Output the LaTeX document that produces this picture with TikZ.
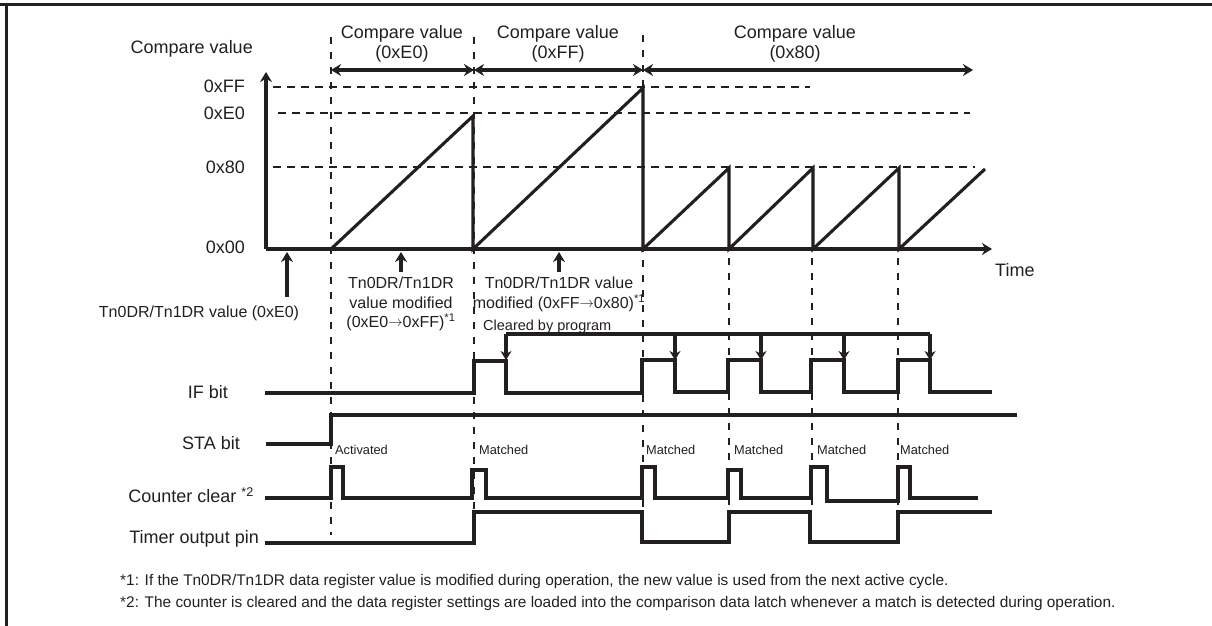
\documentclass[tikz,border=0pt]{standalone}
\usepackage{fontspec}
\setmainfont{Liberation Sans}
\usetikzlibrary{arrows.meta}
\definecolor{ink}{HTML}{231F20}
\newcommand{\tinyarrow}{\raisebox{1.2pt}{\fontsize{14}{14}\selectfont$\rightarrow$}}
\begin{document}
\begin{tikzpicture}[x=1pt,y=-1pt, every node/.style={text=ink, inner sep=0pt},
  sig/.style={draw=ink, line width=3.1pt, line join=miter},
  hdash/.style={draw=ink, line width=2pt, dash pattern=on 8pt off 6pt},
  vdash/.style={draw=ink, line width=2pt, dash pattern=on 7pt off 8pt},
  lbl/.style={font=\fontsize{18}{20}\selectfont},
  ann/.style={font=\fontsize{16}{19.5}\selectfont, align=center},
  tiny/.style={font=\fontsize{12.8}{14}\selectfont, anchor=base west},
  foot/.style={font=\fontsize{15.4}{17}\selectfont, anchor=base west},
  arr/.style={draw=ink, line width=3.1pt, -{Stealth[length=10pt,width=12pt]}},
  darr/.style={draw=ink, line width=3.1pt, {Stealth[length=10pt,width=12pt]}-{Stealth[length=10pt,width=12pt]}},
  clr/.style={draw=ink, line width=3.1pt, -{Stealth[length=9pt,width=11pt]}},
]
\useasboundingbox (0,0) rectangle (1212,626);
% frame
\draw[ink, line width=3pt] (0,4.5) -- (1212,4.5);
\draw[ink, line width=3pt] (6.5,3) -- (6.5,626);

% coordinates of the time grid
\coordinate (o) at (266,249);
\coordinate (ytop) at (266,72);
\coordinate (tend) at (992,249);

% dashed level lines
\draw[hdash] (273,87) -- (810,87);
\draw[hdash] (278,113) -- (970,113);
\draw[hdash] (273,167) -- (975,167);

% dashed vertical lines
\draw[vdash] (331,37) -- (331,535);
\draw[vdash] (474,37) -- (474,510);
\draw[vdash] (643,35) -- (643,508);
\draw[vdash] (729,258) -- (729,508);
\draw[vdash] (812,258) -- (812,508);
\draw[vdash] (898,258) -- (898,508);

% axes
\draw[arr] (o) -- (ytop);
\draw[arr] (o) -- (tend);

% sawtooth
\draw[sig] (331,249) -- (473,116) -- (473,249) -- (643,88) -- (643,249)
  -- (729,168) -- (729,249) -- (813,168) -- (813,249) -- (899,168) -- (899,249)
  -- (985,169);

% compare value intervals
\coordinate (c0) at (331,70);
\coordinate (c1) at (474,70);
\coordinate (c2) at (643,70);
\coordinate (c3) at (973,70);
\draw[darr] (c0) -- (c1);
\draw[darr] (c1) -- (c2);
\draw[darr] (c2) -- (c3);
\node[lbl, align=center] (h1) at (402,43.5) {Compare value\\(0xE0)};
\node[lbl, align=center] (h2) at (558,43.5) {Compare value\\(0xFF)};
\node[lbl, align=center] (h3) at (795,43.5) {Compare value\\(0x80)};

% axis labels
\node[lbl, anchor=base east] (ylab) at (253,53.5) {Compare value};
\node[lbl, anchor=base east] (lFF) at (245,92.5) {0xFF};
\node[lbl, anchor=base east] (lE0) at (245,119.5) {0xE0};
\node[lbl, anchor=base east] (l80) at (245,173.5) {0x80};
\node[lbl, anchor=base east] (l00) at (245,253.5) {0x00};
\node[lbl, anchor=base west] (time) at (995,276.5) {Time};

% annotations
\node[ann, anchor=base] (a1) at (199,317.8) {Tn0DR/Tn1DR value (0xE0)};
\node[ann] (a2) at (401,304) {Tn0DR/Tn1DR\\value modified\\(0xE0\tinyarrow 0xFF)\textsuperscript{*1}};
\node[ann] (a3) at (559,294.4) {Tn0DR/Tn1DR value\\modified (0xFF\tinyarrow 0x80)\textsuperscript{*1}};
\coordinate (p1) at (287,297); \coordinate (q1) at (287,252);
\coordinate (p2) at (401,272); \coordinate (q2) at (401,252);
\coordinate (p3) at (559,272); \coordinate (q3) at (559,252);
\draw[arr] (p1) -- (q1);
\draw[arr] (p2) -- (q2);
\draw[arr] (p3) -- (q3);

% cleared by program
\node[font=\fontsize{14.5}{16}\selectfont, anchor=base west] (cbp) at (483,330.2) {Cleared by program};
\coordinate (b0) at (506,334);
\coordinate (b1) at (675,334);
\coordinate (b2) at (761,334);
\coordinate (b3) at (844,334);
\coordinate (b4) at (930,334);
\draw[sig] (b0) -- (b4);
\draw[clr] (b0) -- (506,360);
\draw[clr] (b1) -- (675,360);
\draw[clr] (b2) -- (761,360);
\draw[clr] (b3) -- (844,360);
\draw[clr] (b4) -- (930,360);

% signal labels
\node[lbl, anchor=base east] (sIF) at (228,398.5) {IF bit};
\node[lbl, anchor=base east] (sSTA) at (240,449.5) {STA bit};
\node[lbl, anchor=base east] (sCC) at (254,502.5) {Counter clear \textsuperscript{*2}};
\node[lbl, anchor=base east] (sTO) at (259,543.5) {Timer output pin};

% IF bit
\draw[sig] (265,393) -- (474,393) -- (474,361) -- (506,361) -- (506,393)
  -- (642,393) -- (642,360) -- (675,360) -- (675,392) -- (728,392) -- (728,360)
  -- (761,360) -- (761,392) -- (811,392) -- (811,360) -- (844,360) -- (844,392)
  -- (898,392) -- (898,360) -- (930,360) -- (930,392) -- (992,392);
% STA bit
\draw[sig] (266,444) -- (331,444) -- (331,415) -- (1017,415);
% counter clear
\draw[sig] (265,498) -- (331,498) -- (331,467) -- (343,467) -- (343,498)
  -- (472,498) -- (472,470) -- (486,470) -- (486,498) -- (642,498) -- (642,467)
  -- (655,467) -- (655,498) -- (728,498) -- (728,470) -- (741,470) -- (741,498)
  -- (811,498) -- (811,467) -- (827,467) -- (827,501) -- (898,501) -- (898,467)
  -- (910,467) -- (910,498) -- (978,498);
% timer output pin
\draw[sig] (265,543) -- (474,543) -- (474,512) -- (642,512) -- (642,542)
  -- (729,542) -- (729,512) -- (810,512) -- (810,542) -- (898,542) -- (898,512)
  -- (992,512);

% event labels
\node[tiny] (ev0) at (335,454.6) {Activated};
\node[tiny] (ev1) at (479,454.6) {Matched};
\node[tiny] (ev2) at (646,454.6) {Matched};
\node[tiny] (ev3) at (734,454.6) {Matched};
\node[tiny] (ev4) at (817,454.6) {Matched};
\node[tiny] (ev5) at (900,454.6) {Matched};

% footnotes
\node[foot] (f1) at (120,585.5) {*1: If the Tn0DR/Tn1DR data register value is modified during operation, the new value is used from the next active cycle.};
\node[foot] (f2) at (120,607.5) {*2: The counter is cleared and the data register settings are loaded into the comparison data latch whenever a match is detected during operation.};
\end{tikzpicture}
\end{document}
